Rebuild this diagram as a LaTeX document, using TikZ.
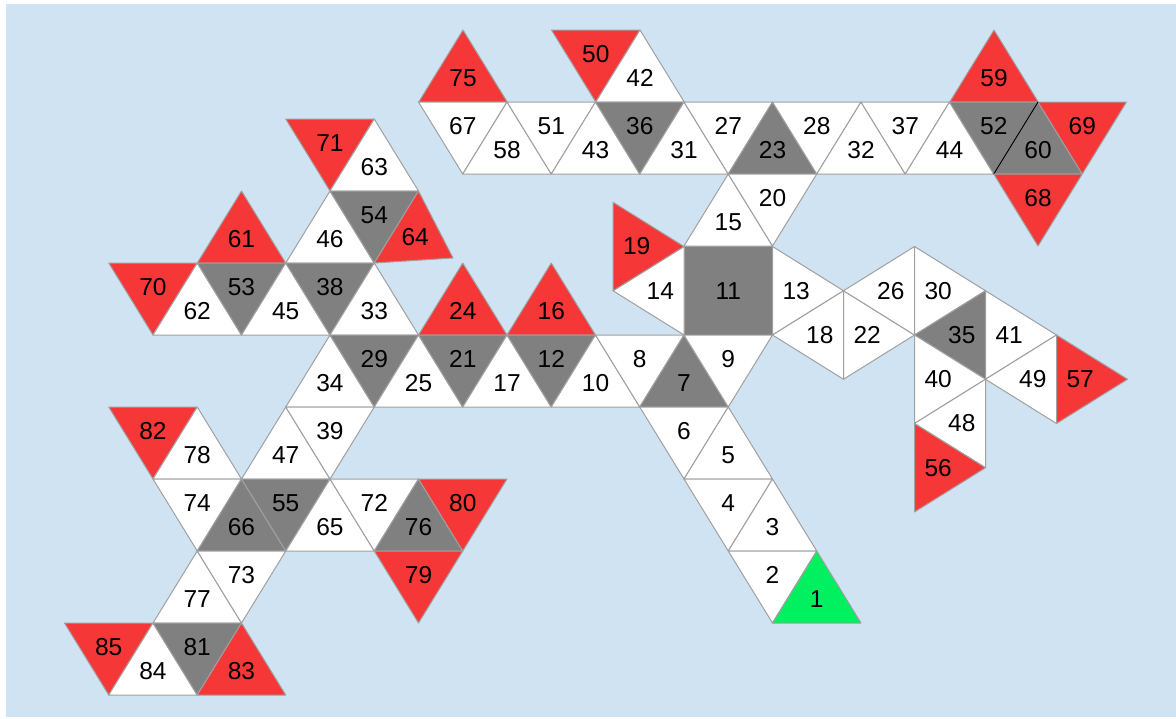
\documentclass[tikz,border=0pt]{standalone}
\usepackage{fontspec}
\setmainfont{Liberation Sans}
\usetikzlibrary{calc}
\definecolor{bgblue}{RGB}{207,227,242}
\definecolor{edgegray}{RGB}{160,160,160}
\definecolor{tred}{RGB}{245,55,55}
\definecolor{tgray}{RGB}{128,128,128}
\definecolor{tgreen}{RGB}{0,240,96}
\tikzset{
  facebase/.style={draw=edgegray,line width=1pt,line join=round},
  wt/.style={facebase,fill=white},
  rd/.style={facebase,fill=tred},
  gy/.style={facebase,fill=tgray},
  gn/.style={facebase,fill=tgreen},
  lbl/.style={inner sep=0pt,text=black,font=\fontsize{24.5}{28}\selectfont}
}
% up triangle: apex x, apex y, style, label
\newcommand\triU[4]{%
  \filldraw[#3] (#1,#2) -- ++(-44.25,72) -- ++(88.5,0) -- cycle;
  \node[lbl] (t#4) at (#1,#2+48) {#4};}
% down triangle: top-left x, y, style, label
\newcommand\triD[4]{%
  \filldraw[#3] (#1,#2) -- ++(88.5,0) -- ++(-44.25,72) -- cycle;
  \node[lbl] (t#4) at (#1+44.25,#2+24) {#4};}
% generic triangle: style, p1, p2, p3, label
\newcommand\triG[5]{%
  \filldraw[#1] (#2) -- (#3) -- (#4) -- cycle;
  \node[lbl] (t#5) at ($0.33333*(#2)+0.33333*(#3)+0.33333*(#4)$) {#5};}
\begin{document}
\begin{tikzpicture}[x=1pt,y=-1pt]
\useasboundingbox (0,0) rectangle (1176,718);
\fill[white] (0,0) rectangle (1176,718);
\fill[bgblue] (6,4) rectangle (1176,717);
% ---------- upper strip ----------
\triU{463}{30}{rd}{75}
\triD{551.5}{30}{rd}{50}
\triU{640}{30}{wt}{42}
\triU{994}{30}{rd}{59}
\triD{418.5}{102}{wt}{67}
\triU{507}{102}{wt}{58}
\triD{507}{102}{wt}{51}
\triU{595.5}{102}{wt}{43}
\triD{595.5}{102}{gy}{36}
\triU{684}{102}{wt}{31}
\triD{684}{102}{wt}{27}
\triU{772.5}{102}{gy}{23}
\triD{772.5}{102}{wt}{28}
\triU{861}{102}{wt}{32}
\triD{861}{102}{wt}{37}
\triU{949.5}{102}{wt}{44}
\triD{949.5}{102}{gy}{52}
\triU{1038}{102}{gy}{60}
\triD{1038}{102}{rd}{69}
\draw[black,line width=1pt] (1038,102) -- (993.75,174);
\triU{728.25}{174}{wt}{15}
\triD{728.25}{174}{wt}{20}
\triD{993.75}{174}{rd}{68}
% ---------- square ----------
\filldraw[gy] (684,246.5) rectangle (772.5,335);
\node[lbl] (t11) at (728.25,290.75) {11};
% ---------- rotated triangles ----------
\triG{wt}{684,246.5}{684,335}{613,290.75}{14}
\triG{rd}{613,202.25}{613,290.75}{684,246.5}{19}
\triG{wt}{772.5,246.5}{772.5,335}{843.5,290.75}{13}
\triG{wt}{843.5,290.75}{843.5,379.25}{772.5,335}{18}
\triG{wt}{843.5,290.75}{843.5,379.25}{914.5,335}{22}
\triG{wt}{914.5,246.5}{914.5,335}{843.5,290.75}{26}
\triG{wt}{914.5,246.5}{914.5,335}{985.5,290.75}{30}
\triG{gy}{985.5,290.75}{985.5,379.25}{914.5,335}{35}
\triG{wt}{985.5,290.75}{985.5,379.25}{1056.5,335}{41}
\triG{wt}{1056.5,335}{1056.5,423.5}{985.5,379.25}{49}
\triG{rd}{1056.5,335}{1056.5,423.5}{1127.5,379.25}{57}
\triG{wt}{914.5,335}{914.5,423.5}{985.5,379.25}{40}
\triG{wt}{985.5,379.25}{985.5,467.75}{914.5,423.5}{48}
\triG{rd}{914.5,423.5}{914.5,512}{985.5,467.75}{56}
% ---------- lower lattice ----------
% row -3
\triD{285.75}{119}{rd}{71}
\triU{374.25}{119}{wt}{63}
% row -2
\triU{241.5}{191}{rd}{61}
\triU{330}{191}{wt}{46}
\triD{330}{191}{gy}{54}
\triG{rd}{418.5,191}{374.25,263}{453,258}{64}
% row -1
\triD{108.75}{263}{rd}{70}
\triU{197.25}{263}{wt}{62}
\triD{197.25}{263}{gy}{53}
\triU{285.75}{263}{wt}{45}
\triD{285.75}{263}{gy}{38}
\triU{374.25}{263}{wt}{33}
\triU{462.75}{263}{rd}{24}
\triU{551.25}{263}{rd}{16}
% row 0
\triU{330}{335}{wt}{34}
\triD{330}{335}{gy}{29}
\triU{418.5}{335}{wt}{25}
\triD{418.5}{335}{gy}{21}
\triU{507}{335}{wt}{17}
\triD{507}{335}{gy}{12}
\triU{595.5}{335}{wt}{10}
\triD{595.5}{335}{wt}{8}
\triU{684}{335}{gy}{7}
\triD{684}{335}{wt}{9}
% row 1
\triD{108.75}{407}{rd}{82}
\triU{197.25}{407}{wt}{78}
\triU{285.75}{407}{wt}{47}
\triD{285.75}{407}{wt}{39}
\triD{639.75}{407}{wt}{6}
\triU{728.25}{407}{wt}{5}
% row 2
\triD{153}{479}{wt}{74}
\triU{241.5}{479}{gy}{66}
\triD{241.5}{479}{gy}{55}
\triU{330}{479}{wt}{65}
\triD{330}{479}{wt}{72}
\triU{418.5}{479}{gy}{76}
\triD{418.5}{479}{rd}{80}
\triD{684}{479}{wt}{4}
\triU{772.5}{479}{wt}{3}
% row 3
\triU{197.25}{551}{wt}{77}
\triD{197.25}{551}{wt}{73}
\triD{374.25}{551}{rd}{79}
\triD{728.25}{551}{wt}{2}
\triU{816.75}{551}{gn}{1}
% row 4
\triD{64.5}{623}{rd}{85}
\triU{153}{623}{wt}{84}
\triD{153}{623}{gy}{81}
\triU{241.5}{623}{rd}{83}
\end{tikzpicture}
\end{document}
